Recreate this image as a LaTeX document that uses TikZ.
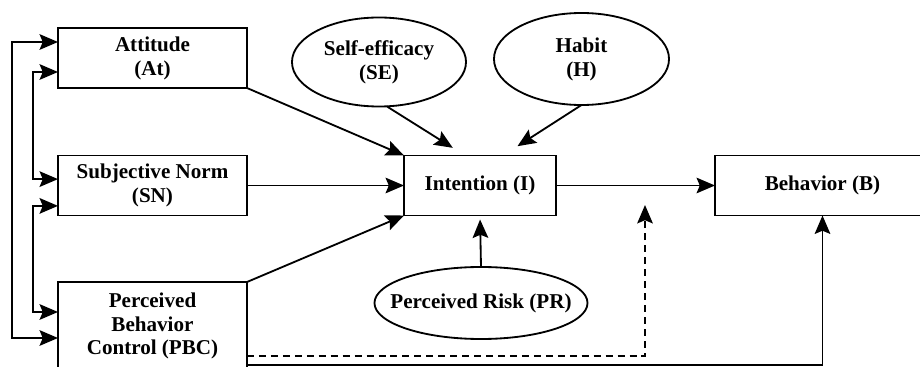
\documentclass[tikz,border=0pt]{standalone}
\usepackage{fontspec}
\setmainfont{Liberation Serif}
\usetikzlibrary{shapes.geometric,arrows.meta}
\begin{document}
\begin{tikzpicture}[x=0.025cm,y=-0.025cm,inner sep=0pt,outer sep=0pt,line width=1.3pt,
tip/.style={-{Stealth[length=4.6mm,width=3.9mm,inset=0.8mm]}},
twotip/.style={{Stealth[length=4.6mm,width=3.9mm,inset=0.8mm]}-{Stealth[length=4.6mm,width=3.9mm,inset=0.8mm]}},
factorbox/.style={draw,rectangle,align=center,minimum width=4.725cm,minimum height=1.5cm,font=\bfseries\fontsize{15}{17}\selectfont},
factorellipse/.style={draw,ellipse,align=center,font=\bfseries\fontsize{15}{17}\selectfont}]

\useasboundingbox (0,0) rectangle (920,367);
\clip (0,0) rectangle (920,367);

\draw (152.5,58) node[factorbox] (At) {Attitude\\(At)};
\draw (152.5,185.5) node[factorbox] (SN) {Subjective Norm\\(SN)};
\draw (152.5,326) node[factorbox,minimum height=2.2cm] (PBC) {Perceived\\Behavior\\Control (PBC)};
\draw (480,185.5) node[factorbox,minimum width=3.8cm] (I) {Intention (I)};
\draw (822.5,185.5) node[factorbox,minimum width=5.375cm] (B) {Behavior (B)};
\draw (379,62) node[factorellipse,minimum width=4.35cm,minimum height=2.225cm] (SE) {Self-efficacy\\(SE)};
\draw (581.5,59) node[factorellipse,minimum width=4.375cm,minimum height=2.3cm] (H) {Habit\\(H)};
\draw (481,303) node[factorellipse,inner xsep=-0.4cm,minimum width=5.325cm,minimum height=1.8cm] (PR) {Perceived Risk (PR)};
\coordinate (modTip) at (645,205);

\draw[twotip] ([yshift=0.4cm]At.west) -- ++(-46,0) |- ([yshift=-0.3cm]PBC.west);
\draw[twotip] ([yshift=-0.35cm]At.west) -- ++(-25,0) |- ([yshift=0.16cm]SN.west);
\draw[twotip] ([yshift=-0.51cm]SN.west) -- ++(-25,0) |- ([yshift=0.35cm]PBC.west);
\draw[tip] (At.south east) -- (I.north west);
\draw[tip] (SN.east) -- (I.west);
\draw[tip] (PBC.north east) -- (I.south west);
\draw[tip,shorten >=0.36cm] ([xshift=0.2cm]SE.south) -- ([xshift=-0.375cm]I.north);
\draw[tip,shorten >=0.43cm] (H.south) -- ([xshift=0.575cm]I.north);
\draw[tip,shorten >=0.1cm] (PR.north) -- (I.south);
\draw[tip] (I.east) -- (B.west);
\draw[tip,dash pattern=on 5pt off 3.5pt] ([yshift=-0.75cm]PBC.east) -| (modTip);
\draw[tip] ([yshift=-0.975cm]PBC.east) -| (B.south);
\end{tikzpicture}
\end{document}
